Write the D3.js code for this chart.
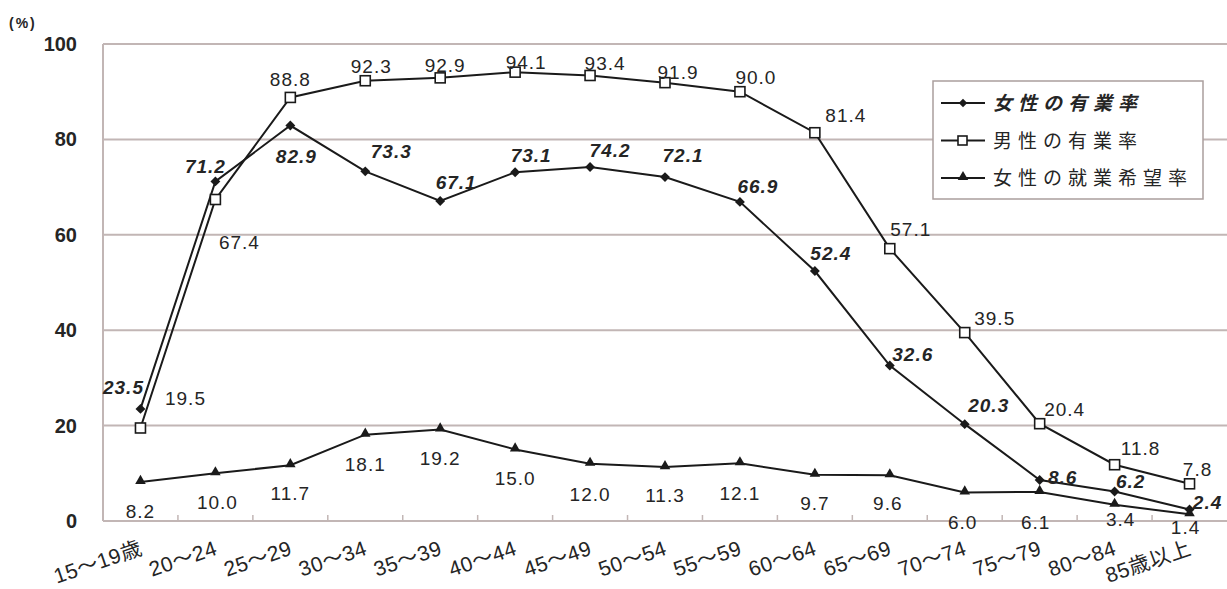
<!DOCTYPE html>
<html>
<head>
<meta charset="utf-8">
<script src="https://cdn.jsdelivr.net/npm/d3@7"></script>
<style>
  body { margin: 0; background: #fff; }
  svg { display: block; font-family: "Liberation Sans", "Noto Sans CJK JP", sans-serif; }
</style>
</head>
<body>
<svg id="chart" width="1227" height="589"></svg>
<script>
// categories (age groups)
var ages = ["15～19歳", "20～24", "25～29", "30～34", "35～39", "40～44", "45～49",
  "50～54", "55～59", "60～64", "65～69", "70～74", "75～79", "80～84", "85歳以上"];

// series values (%)
var womenEmployed = [23.5, 71.2, 82.9, 73.3, 67.1, 73.1, 74.2, 72.1, 66.9, 52.4, 32.6, 20.3, 8.6, 6.2, 2.4];
var menEmployed = [19.5, 67.4, 88.8, 92.3, 92.9, 94.1, 93.4, 91.9, 90.0, 81.4, 57.1, 39.5, 20.4, 11.8, 7.8];
var womenWanting = [8.2, 10.0, 11.7, 18.1, 19.2, 15.0, 12.0, 11.3, 12.1, 9.7, 9.6, 6.0, 6.1, 3.4, 1.4];

var yTicks = [0, 20, 40, 60, 80, 100];
var seriesNames = ["女性の有業率", "男性の有業率", "女性の就業希望率"];

// label offsets from the point (layout only)
var womenLabelOff = [[-17,-15],[-10,-8],[6,37],[26,-13],[16,-12],[16,-10],[20,-10],[18,-15],[18,-9],[16,-11],[23,-4],[24,-12],[23,4],[16,-3],[18,-1]];
var menLabelOff = [[45,-23],[24,49],[0,-11],[6,-8],[5,-6],[11,-3],[15,-5],[13,-4],[16,-8],[31,-11],[21,-13],[30,-8],[25,-8],[26,-10],[8,-8]];
var wantLabelOff = [[0,36],[2,36],[0,35],[0,36],[0,36],[0,36],[0,37],[0,35],[0,37],[0,35],[-2,35],[-2,37],[-4,37],[6,21],[-4,20]];

var svg = d3.select("#chart");
var pLeft = 103, pRight = 1227, pTop = 44, pBottom = 521;

var x = d3.scaleBand().domain(ages).range([pLeft, pRight]);
var y = d3.scaleLinear().domain([0, 100]).range([pBottom, pTop]);
var cx = function(i) { return x(ages[i]) + x.bandwidth() / 2; };

var gridColor = "#c2b6b5";
var textColor = "#252525";
var ink = "#1a1a1a";

// gridlines
svg.append("g").selectAll("line").data(yTicks).enter().append("line")
  .attr("x1", pLeft).attr("x2", pRight)
  .attr("y1", function(d) { return y(d); }).attr("y2", function(d) { return y(d); })
  .attr("stroke", gridColor).attr("stroke-width", 2);

svg.append("line").attr("x1", pLeft).attr("x2", pLeft).attr("y1", pTop).attr("y2", pBottom)
  .attr("stroke", gridColor).attr("stroke-width", 2);

// x ticks at band boundaries
svg.append("g").selectAll("line").data(ages.slice(1)).enter().append("line")
  .attr("x1", function(d) { return x(d); }).attr("x2", function(d) { return x(d); })
  .attr("y1", pBottom).attr("y2", pBottom - 6)
  .attr("stroke", gridColor).attr("stroke-width", 1.5);

// y labels
svg.append("g").selectAll("text").data(yTicks).enter().append("text")
  .attr("x", 77).attr("y", function(d) { return y(d) + 7; })
  .attr("text-anchor", "end").attr("font-size", 20).attr("fill", textColor)
  .attr("font-weight", "bold")
  .text(function(d) { return d; });

svg.append("text").attr("x", 9).attr("y", 28).attr("font-size", 14)
  .attr("letter-spacing", 2)
  .attr("font-weight", "bold").attr("fill", textColor).text("(%)");

// x labels rotated
svg.append("g").selectAll("text").data(ages).enter().append("text")
  .attr("transform", function(d, i) { return "translate(" + (cx(i) + 3) + "," + 554 + ") rotate(-19)"; })
  .attr("text-anchor", "end").attr("font-size", 21).attr("fill", textColor)
  .attr("letter-spacing", 0.5)
  .text(function(d) { return d; });

var line = d3.line().x(function(d, i) { return cx(i); }).y(function(d) { return y(d); });

function drawLine(vals) {
  svg.append("path").datum(vals).attr("d", line)
    .attr("fill", "none").attr("stroke", ink).attr("stroke-width", 2);
}
drawLine(womenWanting);
drawLine(womenEmployed);
drawLine(menEmployed);

// markers
var tri = d3.symbol().type(d3.symbolTriangle).size(48);

svg.append("g").selectAll("path").data(womenWanting).enter().append("path")
  .attr("d", tri).attr("fill", ink)
  .attr("transform", function(d, i) { return "translate(" + cx(i) + "," + (y(d) - 1) + ")"; });

svg.append("g").selectAll("rect").data(womenEmployed).enter().append("rect")
  .attr("x", -3.5).attr("y", -3.5).attr("width", 7).attr("height", 7).attr("fill", ink)
  .attr("transform", function(d, i) { return "translate(" + cx(i) + "," + y(d) + ") rotate(45)"; });

svg.append("g").selectAll("rect").data(menEmployed).enter().append("rect")
  .attr("x", function(d, i) { return cx(i) - 5; }).attr("y", function(d) { return y(d) - 5; })
  .attr("width", 10).attr("height", 10)
  .attr("fill", "#fff").attr("stroke", ink).attr("stroke-width", 1.6);

// value labels
function drawLabels(vals, offs, italicBold) {
  svg.append("g").selectAll("text").data(vals).enter().append("text")
    .attr("x", function(d, i) { return cx(i) + offs[i][0]; })
    .attr("y", function(d, i) { return y(d) + offs[i][1]; })
    .attr("text-anchor", "middle").attr("font-size", 19).attr("fill", textColor)
    .attr("letter-spacing", 1)
    .attr("font-weight", italicBold ? "bold" : "normal")
    .attr("font-style", italicBold ? "italic" : "normal")
    .text(function(d) { return d.toFixed(1); });
}
drawLabels(womenEmployed, womenLabelOff, true);
drawLabels(menEmployed, menLabelOff, false);
drawLabels(womenWanting, wantLabelOff, false);

// legend
var lg = svg.append("g").attr("transform", "translate(933,81)");
lg.append("rect").attr("width", 270).attr("height", 118)
  .attr("fill", "#fff").attr("stroke", "#aa9e9d").attr("stroke-width", 1.5);
seriesNames.forEach(function(name, i) {
  var ly = 22 + i * 37.5;
  lg.append("line").attr("x1", 8).attr("x2", 52).attr("y1", ly).attr("y2", ly)
    .attr("stroke", ink).attr("stroke-width", 2);
  if (i === 0) {
    lg.append("rect").attr("x", -3).attr("y", -3).attr("width", 6).attr("height", 6).attr("fill", ink)
      .attr("transform", "translate(30," + ly + ") rotate(45)");
  } else if (i === 1) {
    lg.append("rect").attr("x", 25).attr("y", ly - 4.5).attr("width", 9).attr("height", 9)
      .attr("fill", "#fff").attr("stroke", ink).attr("stroke-width", 1.6);
  } else {
    lg.append("path").attr("d", tri).attr("fill", ink).attr("transform", "translate(30," + (ly - 1) + ")");
  }
  lg.append("text").attr("x", 60).attr("y", ly + 7).attr("font-size", 19).attr("fill", textColor)
    .attr("letter-spacing", 6)
    .attr("font-weight", i === 0 ? "bold" : "normal").attr("font-style", i === 0 ? "italic" : "normal")
    .attr("font-family", "'Noto Sans CJK JP', sans-serif")
    .text(name);
});
</script>
</body>
</html>
